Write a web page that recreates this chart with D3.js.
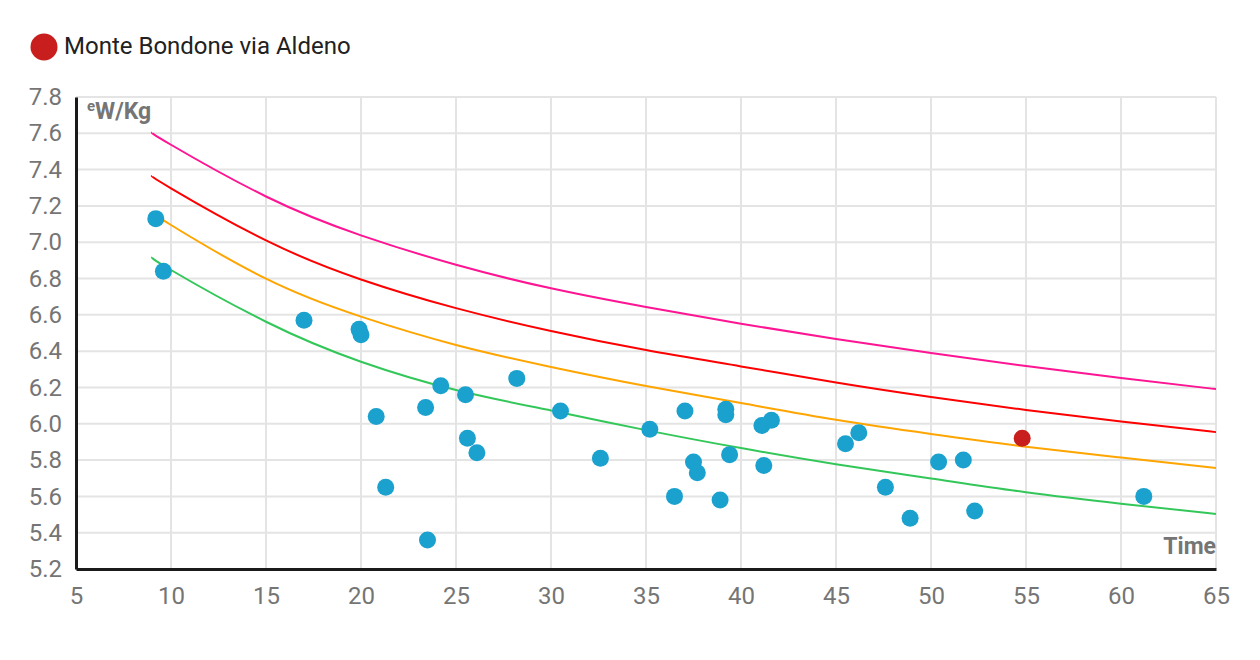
<!DOCTYPE html>
<html>
<head>
<meta charset="utf-8">
<script src="https://cdn.jsdelivr.net/npm/d3@7"></script>
<style>
  body { margin: 0; background: #fff; }
  svg { font-family: Roboto, "Noto Sans", sans-serif; }
</style>
</head>
<body>
<svg></svg>
<script>
// rides (time in minutes, W/kg)
let rideTimes = [9.2, 9.6, 17.0, 19.9, 20.0, 20.8, 21.3, 23.4, 23.5, 24.2, 25.5, 25.6, 26.1, 28.2, 30.5, 32.6, 35.2, 36.5, 37.05, 37.5, 37.7, 38.9, 39.2, 39.2, 39.4, 41.1, 41.6, 41.2, 45.5, 46.2, 47.6, 48.9, 50.4, 51.7, 52.3, 61.2];
let rideWkg   = [7.13, 6.84, 6.57, 6.52, 6.49, 6.04, 5.65, 6.09, 5.36, 6.21, 6.16, 5.92, 5.84, 6.25, 6.07, 5.81, 5.97, 5.60, 6.07, 5.79, 5.73, 5.58, 6.08, 6.05, 5.83, 5.99, 6.02, 5.77, 5.89, 5.95, 5.65, 5.48, 5.79, 5.80, 5.52, 5.60];

let highlightName = 'Monte Bondone via Aldeno';
let highlightTime = [54.8];
let highlightWkg = [5.92];

// reference curves
let curveTimes = [9, 10, 15, 20, 25, 30, 35, 40, 45, 50, 55, 60, 65];
let curvePink   = [7.605, 7.537, 7.252, 7.038, 6.876, 6.746, 6.643, 6.551, 6.467, 6.390, 6.318, 6.252, 6.191];
let curveRed    = [7.366, 7.297, 7.010, 6.795, 6.637, 6.511, 6.406, 6.316, 6.227, 6.147, 6.076, 6.013, 5.954];
let curveOrange = [7.165, 7.095, 6.799, 6.590, 6.434, 6.313, 6.208, 6.114, 6.022, 5.944, 5.874, 5.814, 5.756];
let curveGreen  = [6.919, 6.847, 6.562, 6.342, 6.186, 6.073, 5.965, 5.866, 5.777, 5.699, 5.623, 5.560, 5.503];

let xTicks = [5, 10, 15, 20, 25, 30, 35, 40, 45, 50, 55, 60, 65];
let yTicks = [5.2, 5.4, 5.6, 5.8, 6.0, 6.2, 6.4, 6.6, 6.8, 7.0, 7.2, 7.4, 7.6, 7.8];

let width = 1260;
let height = 660;
let plotLeft = 76, plotRight = 1216, plotTop = 97, plotBottom = 569;

let svg = d3.select('svg').attr('width', width).attr('height', height);

let xScale = d3.scaleLinear().domain([5, 65]).range([plotLeft, plotRight]);
let yScale = d3.scaleLinear().domain([5.2, 7.8]).range([plotBottom, plotTop]);

// grid
svg.append('g')
   .selectAll('line')
   .data(xTicks)
   .join('line')
   .attr('x1', d => xScale(d)).attr('x2', d => xScale(d))
   .attr('y1', plotTop).attr('y2', plotBottom)
   .attr('stroke', '#e4e4e4').attr('stroke-width', 2);

svg.append('g')
   .selectAll('line')
   .data(yTicks)
   .join('line')
   .attr('x1', plotLeft).attr('x2', plotRight)
   .attr('y1', d => yScale(d)).attr('y2', d => yScale(d))
   .attr('stroke', '#e4e4e4').attr('stroke-width', 2);

// axes
let xAxis = d3.axisBottom(xScale).tickValues(xTicks).tickSize(0).tickPadding(18).tickFormat(d3.format('d'));
let yAxis = d3.axisLeft(yScale).tickValues(yTicks).tickSize(0).tickPadding(14).tickFormat(d3.format('.1f'));

let gx = svg.append('g').attr('transform', `translate(0,${plotBottom})`).call(xAxis);
let gy = svg.append('g').attr('transform', `translate(${plotLeft},0)`).call(yAxis);

[gx, gy].forEach(g => {
    g.select('.domain').attr('stroke', '#1a1a1a').attr('stroke-width', 3);
    g.selectAll('text').attr('fill', '#757575').style('font-size', '24px')
     .style('font-family', 'Roboto, sans-serif');
});

// curves
let line = d3.line()
             .x(d => xScale(d[0]))
             .y(d => yScale(d[1]))
             .curve(d3.curveNatural);

let curves = [
    { vals: curvePink, color: '#ff1493' },
    { vals: curveRed, color: '#ff0000' },
    { vals: curveOrange, color: '#ffa500' },
    { vals: curveGreen, color: '#33c759' }
];

curves.forEach(c => {
    svg.append('path')
       .datum(curveTimes.map((t, i) => [t, c.vals[i]]))
       .attr('d', line)
       .attr('fill', 'none')
       .attr('stroke', c.color)
       .attr('stroke-width', 2);
});

// rides
svg.append('g')
   .selectAll('circle')
   .data(rideTimes.map((t, i) => [t, rideWkg[i]]))
   .join('circle')
   .attr('cx', d => xScale(d[0]))
   .attr('cy', d => yScale(d[1]))
   .attr('r', 8.5)
   .attr('fill', '#1ba1ce');

svg.append('g')
   .selectAll('circle')
   .data(highlightTime.map((t, i) => [t, highlightWkg[i]]))
   .join('circle')
   .attr('cx', d => xScale(d[0]))
   .attr('cy', d => yScale(d[1]))
   .attr('r', 8.5)
   .attr('fill', '#c81e1e');

// axis titles
let yTitle = svg.append('text')
   .attr('x', 87).attr('y', 119)
   .attr('fill', '#757575')
   .style('font-weight', 'bold')
   .style('font-size', '23px');
yTitle.append('tspan').text('e').style('font-size', '15px').attr('dy', -8);
yTitle.append('tspan').text('W/Kg').attr('dy', 8);

svg.append('text')
   .attr('x', plotRight).attr('y', 554)
   .attr('text-anchor', 'end')
   .attr('fill', '#757575')
   .style('font-weight', 'bold')
   .style('font-size', '23px')
   .text('Time');

// legend
svg.append('circle').attr('cx', 44).attr('cy', 47).attr('r', 13.5).attr('fill', '#c81e1e');
svg.append('text')
   .attr('x', 64).attr('y', 54)
   .attr('fill', '#212121')
   .style('font-size', '24px')
   .text(highlightName);
</script>
</body>
</html>
